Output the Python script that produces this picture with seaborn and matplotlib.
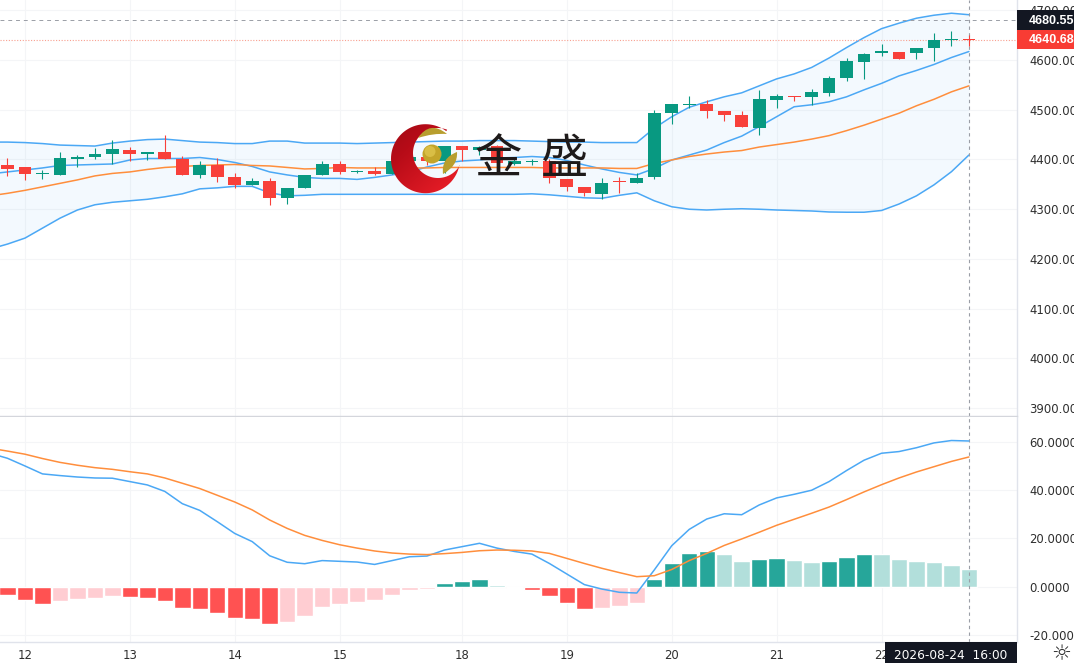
import numpy as np
import pandas as pd
import matplotlib
matplotlib.use("Agg")
import matplotlib.pyplot as plt
from matplotlib.path import Path
from matplotlib.patches import PathPatch, Circle, Rectangle
from matplotlib.colors import LinearSegmentedColormap
import seaborn as sns

# ---------- data ----------
opens = [4388,4384,4370,4369,4401,4405,4411,4420,4412,4415,4401,4369,4388,4365,4349,4357,4323,4343,4368,4391,
         4375,4377,4371,4396,4405,4396,4427,4419,4427,4390,4394,4396,4361,4345,4331,4356,4353,4364,4494,4509,
         4512,4498,4490,4464,4520,4528,4525,4534,4563,4596,4613.5,4615.5,4613.5,4624,4639.5,4641.5]
highs = [4404,4384,4379,4415,4410,4423,4440,4426,4415,4450,4407,4396,4402,4373,4363,4362,4343,4368,4396,4396,
         4379,4385,4396,4405,4405,4427,4427,4427,4430,4404,4400,4400,4361,4345,4362,4364,4373,4500,4511,4528,
         4520,4498,4498,4540,4532,4528,4542,4568,4604,4615,4632,4615.5,4623.5,4655,4658,4650]
lows = [4367,4359,4361,4369,4384,4400,4391,4396,4398,4400,4369,4362,4355,4343,4349,4309,4311,4343,4368,4371,
        4372,4369,4371,4390,4389,4373,4397,4410,4390,4388,4388,4353,4337,4327,4321,4333,4353,4360,4471,4503,
        4484,4477,4465,4450,4503,4517,4509,4528,4558,4561,4609,4602.6,4603,4597,4628,4628]
closes = [4381,4371,4372,4402,4406,4412,4421,4411,4414,4400,4369,4388,4364,4349,4357,4323,4343,4368,4391,4375,
          4377,4370,4396,4405,4396,4427,4419,4425,4392,4396,4397,4363,4344,4333,4353,4354,4363,4493,4511,4512,
          4497,4489,4465,4522,4528,4525,4535,4564,4597,4613,4617.5,4602.6,4623.5,4640,4641.5,4640.5]
# the line series hold one extra leading bar, whose candle lies off the left edge
band_upper = [4435,4435,4434,4432,4429,4428,4427,4433,4437,4440,4441,4438,4435,4434,4432,4432,4437,4437,4433,4433,4433,
              4432,4433,4434,4435,4436,4437,4437,4438,4438,4438,4437,4436,4435,4435,4434,4434,4434,4463,4486,4505,
              4516,4526,4534,4548,4562,4572,4585,4604,4625,4645,4663,4674,4684,4690,4694,4691]
band_inner = [4371,4375,4379,4383,4388,4389,4390,4391,4399,4402,4402,4402,4404,4400,4394,4386,4375,4369,4364,4362,4362,
              4360,4364,4369,4375,4385,4393,4397,4399,4403,4404,4406,4404,4398,4389,4381,4374,4369,4382,4399,4409,
              4419,4434,4447,4466,4486,4506,4510,4516,4526,4540,4553,4568,4579,4591,4605,4617]
band_mid = [4327,4332,4338,4345,4352,4359,4367,4372,4375,4380,4384,4386,4388,4389,4390,4388,4387,4384,4381,4382,4384,
            4383,4383,4383,4383,4383,4384,4384,4384,4384,4384,4384,4383,4383,4383,4383,4382,4382,4392,4399,4406,
            4411,4415,4418,4425,4430,4435,4441,4448,4458,4469,4481,4493,4508,4521,4536,4548]
band_lower = [4220,4230,4242,4262,4282,4298.5,4309,4314,4317,4320,4325,4331,4341,4343,4346,4346,4333,4327,4328,4330,4330,
              4330,4330,4330,4330,4330,4330,4330,4330,4330,4330,4331,4329,4326,4323,4322,4328,4333,4317,4305,4300,
              4298.5,4300,4301,4300,4298.5,4297.5,4296.5,4294.5,4294,4294,4297.5,4310.5,4327,4349,4375.5,4409]
macd_dif = [55.5,53.4,50.2,46.9,46.2,45.6,45.2,45.1,43.7,42.3,39.6,34.5,31.7,27.0,22.1,18.7,12.8,10.1,9.5,10.8,10.5,
            10.2,9.2,10.8,12.4,12.7,15.2,16.6,18.0,16.0,14.6,13.5,9.6,5.2,0.8,-1.05,-2.4,-2.7,6.9,17.0,23.8,
            28.1,30.3,29.9,33.95,36.9,38.4,40.1,43.7,48.3,52.6,55.5,56.2,57.8,59.8,60.8,60.6]
macd_dea = [57.6,56.4,55.1,53.3,51.7,50.5,49.5,48.8,47.8,46.9,45.2,43.0,40.8,38.0,35.2,31.9,27.7,24.2,21.3,19.2,17.4,
            16.0,14.8,13.95,13.5,13.3,13.7,14.2,14.9,15.2,15.1,14.8,13.8,11.7,9.6,7.6,5.8,4.1,4.5,7.1,10.8,
            13.8,17.1,19.8,22.6,25.5,28.0,30.5,33.1,36.2,39.4,42.4,45.2,47.7,49.9,52.1,53.95]
macd_hist = [-3.6,-5.7,-7.1,-6.0,-5.4,-4.8,-4.0,-4.3,-4.6,-6.0,-9.0,-9.5,-11.2,-13.2,-13.5,-15.5,-14.9,-12.4,-8.7,-7.3,
             -6.3,-5.7,-3.4,-1.4,-0.9,1.6,2.4,3.1,0.7,-0.6,-1.4,-4.1,-6.7,-9.4,-9.0,-8.1,-6.8,3.0,9.8,13.8,
             14.7,13.5,10.7,11.5,11.9,11.1,10.2,10.8,12.4,13.7,13.6,11.5,10.5,10.2,8.8,7.1]
day_positions = [1,7,13,19,26,32,38,44,50]
day_labels = ["12","13","14","15","18","19","20","21","22"]
price_ticks = [3900,4000,4100,4200,4300,4400,4500,4600,4700]
macd_ticks = [-20,0,20,40,60]
high_mark = 4680.55
last_price = 4640.68
cursor_label = "2026-08-24  16:00"
brand = ["金", "盛"]

# ---------- style ----------
W, H = 1074, 663
UP, DOWN = "#089981", "#F8403A"
BLUE, ORANGE = "#4BA8F5", "#FF8E3C"
GRID, EDGE, TXT, DARK = "#F4F5F7", "#E0E3EB", "#2E2E2E", "#131722"
sns.set_theme(style="white", rc={"font.family": ["DejaVu Sans"], "axes.edgecolor": EDGE,
                                 "axes.linewidth": 1.0})
fig = plt.figure(figsize=(W/100, H/100), dpi=100, facecolor="white")
R = 1017
ax = fig.add_axes([0, 1-416/H, R/W, 416/H])
am = fig.add_axes([0, 1-642/H, R/W, (642-416.5)/H], sharex=ax)

idx = np.arange(len(closes))
frame = pd.DataFrame(dict(i=idx, o=opens, h=highs, l=lows, c=closes, bar=macd_hist))
lines = pd.DataFrame(dict(i=np.arange(-1, len(closes)), up=band_upper, inner=band_inner, mid=band_mid,
                          lower=band_lower, dif=macd_dif, dea=macd_dea))

# ---------- price pane ----------
ax.fill_between(lines["i"], lines["lower"], lines["up"], color="#2196F3", alpha=0.05, lw=0, zorder=1)
for col, colr in [("up", BLUE), ("inner", BLUE), ("lower", BLUE), ("mid", ORANGE)]:
    sns.lineplot(data=lines, x="i", y=col, ax=ax, color=colr, lw=1.1, errorbar=None, zorder=2)
rising = frame["c"] >= frame["o"]
colors = np.where(rising, UP, DOWN)
ax.vlines(frame["i"], frame["l"], frame["h"], colors=colors, lw=0.8, zorder=3)
ax.bar(frame["i"], (frame["c"]-frame["o"]).abs().clip(lower=2.5), bottom=frame[["o", "c"]].min(axis=1),
       width=0.73, color=colors, lw=0, zorder=4)

ax.axhline(high_mark, color="#9A9EA6", lw=0.7, dashes=(4, 4), zorder=2.5)
ax.axhline(last_price, color="#F8A090", lw=0.8, dashes=(1, 1.5), zorder=2.5)
ax.set_ylim(3884.4, 4720.6)
ax.set_yticks(price_ticks)
ax.set_yticklabels([f"{v:.2f}" for v in price_ticks])

# ---------- MACD pane ----------
shades = []
for i, v in enumerate(macd_hist):
    prev = macd_hist[i-1] if i else v
    if v >= 0:
        shades.append("#26A69A" if v >= prev else "#B2DFDB")
    else:
        shades.append("#FF5252" if v <= prev else "#FFCDD2")
frame["shade"] = shades
sns.barplot(data=frame, x="i", y="bar", hue="shade", palette={s: s for s in set(shades)},
            native_scale=True, dodge=False, legend=False, width=0.94, ax=am, saturation=1, zorder=2)
sns.lineplot(data=lines, x="i", y="dif", ax=am, color=BLUE, lw=1.1, errorbar=None, zorder=3)
sns.lineplot(data=lines, x="i", y="dea", ax=am, color=ORANGE, lw=1.1, errorbar=None, zorder=3)
am.set_ylim(-23.1, 70.8)
am.set_yticks(macd_ticks)
am.set_yticklabels([f"{v:.4f}" if v >= 0 else f"{v:.3f}" for v in macd_ticks])

# ---------- shared axes ----------
for a in (ax, am):
    a.set_xlim(-0.429, 57.75)
    a.set_xlabel("")
    a.set_ylabel("")
    a.yaxis.tick_right()
    a.grid(True, color=GRID, lw=0.8, zorder=0)
    a.set_axisbelow(True)
    a.tick_params(axis="y", length=0, pad=8.6, labelsize=8.4, labelcolor=TXT)
    a.tick_params(axis="x", length=0, pad=5, labelsize=8.4, labelcolor=TXT)
    a.spines["top"].set_visible(False)
    a.spines["left"].set_visible(False)
    a.axvline(idx[-1], color="#9A9EA6", lw=0.8, dashes=(3, 3), zorder=2.5)
    a.set_facecolor("white")
ax.spines["bottom"].set_color("#D4D6DC")
am.set_xticks(day_positions)
am.set_xticklabels(day_labels)
ax.tick_params(axis="x", labelbottom=False)
for t in am.get_xticklabels():
    t.set_fontweight("medium")

# ---------- overlay in pixel coordinates: labels and brand mark ----------
ov = fig.add_axes([0, 0, 1, 1], zorder=10)
ov.set_xlim(0, W)
ov.set_ylim(H, 0)
ov.axis("off")
ov.patch.set_alpha(0)

ov.add_patch(Rectangle((R, 10), W-R, 20, color=DARK, lw=0))
ov.add_patch(Rectangle((R, 30), W-R, 19, color="#F83C34", lw=0))
ov.add_patch(Rectangle((885, 642), R-885, H-642, color=DARK, lw=0))
for yy0, val in ((20.5, high_mark), (40, last_price)):
    ov.text(1029, yy0, f"{val:.2f}", color="white", fontsize=9, fontweight="bold", va="center",
            family="Liberation Sans", clip_on=False)
ov.text(951, 655.5, cursor_label, color="white", fontsize=8.7, fontweight="medium", ha="center", va="center")
ov.text(1061, 654.5, "\u263C", color="#303030", fontsize=16, ha="center", va="center", family="DejaVu Sans")

# crescent
cx, cy, r = 425.5, 158.7, 34.5
ix, iy, ir = 438.0, 153.0, 25.0
a1 = np.radians(np.linspace(-53, -349.4, 90))
a2 = np.radians(np.linspace(29.7, 291.4, 90))
pts = np.vstack([np.c_[cx+r*np.cos(a1), cy+r*np.sin(a1)], np.c_[ix+ir*np.cos(a2), iy+ir*np.sin(a2)]])
crescent = PathPatch(Path(np.vstack([pts, pts[0]]), closed=True), transform=ov.transData, fc="none", lw=0)
ov.add_patch(crescent)
yy, xx = np.mgrid[0:1:120j, 0:1:120j]
grad = np.clip(0.15+0.5*xx+0.55*yy, 0, 1)
cmap = LinearSegmentedColormap.from_list("logo", ["#8E0812", "#B80C18", "#E41C26"])
img = ov.imshow(grad, extent=(385, 465, 200, 118), cmap=cmap, vmin=0, vmax=1, aspect="auto", zorder=11)
img.set_clip_path(crescent)
ov.set_xlim(0, W)
ov.set_ylim(H, 0)

# gold ball and leaves
ov.add_patch(Circle((432, 154), 9.5, fc="#C4A52A", lw=0, zorder=12))
ov.add_patch(Circle((430, 151.5), 5.5, fc="#D9BE45", lw=0, zorder=12))
leaf = [((418, 138), (430, 120), (447, 134), (433, 133)), ((443, 174), (441, 158), (457, 152), (458, 166))]
for s, c1, e, c2 in leaf:
    ov.add_patch(PathPatch(Path([s, c1, e, c2, s], [Path.MOVETO, Path.CURVE3, Path.CURVE3, Path.CURVE3, Path.CURVE3]),
                           fc="#B89E2E", lw=0, zorder=12))
for ch, x in zip(brand, (498.5, 565)):
    ov.text(x, 160, ch, family=["Noto Sans CJK SC", "DejaVu Sans"], fontsize=34, fontweight="medium",
            color="#1E1A1A", ha="center", va="center", zorder=13)

fig.savefig("out.png", dpi=100, facecolor="white")
